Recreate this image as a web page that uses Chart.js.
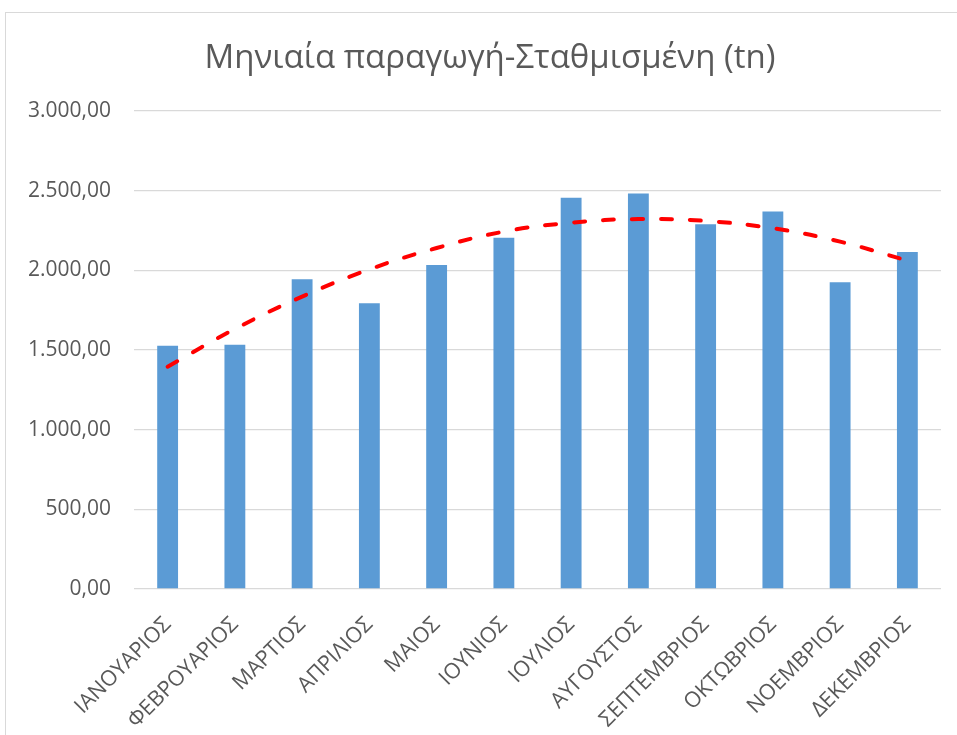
<!DOCTYPE html>
<html>
<head>
<meta charset="utf-8">
<script src="https://cdn.jsdelivr.net/npm/chart.js@4"></script>
<style>
  html, body { margin: 0; padding: 0; background: #ffffff; }
  #frame { position: absolute; left: 5px; top: 12px; width: 1000px; height: 1000px; border: 1px solid #d9d9d9; box-sizing: border-box; }
  #wrap { position: absolute; left: 0; top: 0; width: 957px; height: 735px; }
</style>
</head>
<body>
<div id="frame"></div>
<div id="wrap"><canvas id="c" width="957" height="735"></canvas></div>
<script>
const categories = ["ΙΑΝΟΥΑΡΙΟΣ","ΦΕΒΡΟΥΑΡΙΟΣ","ΜΑΡΤΙΟΣ","ΑΠΡΙΛΙΟΣ","ΜΑΙΟΣ","ΙΟΥΝΙΟΣ","ΙΟΥΛΙΟΣ","ΑΥΓΟΥΣΤΟΣ","ΣΕΠΤΕΜΒΡΙΟΣ","ΟΚΤΩΒΡΙΟΣ","ΝΟΕΜΒΡΙΟΣ","ΔΕΚΕΜΒΡΙΟΣ"];
const production = [1527, 1533, 1944, 1793, 2034, 2205, 2456, 2483, 2289, 2370, 1925, 2115];
const trend = [1395, 1632, 1835, 2006, 2140, 2243, 2299, 2322, 2310, 2264, 2180, 2061];
const yTicks = [0, 500, 1000, 1500, 2000, 2500, 3000];
const titleText = "Μηνιαία παραγωγή-Σταθμισμένη (tn)";

function fmtGreek(v) {
  const fixed = Number(v).toFixed(2);
  let [intPart, dec] = fixed.split(".");
  intPart = intPart.replace(/\B(?=(\d{3})+(?!\d))/g, ".");
  return intPart + "," + dec;
}

const textColor = "#595959";
const fontFamily = "'Open Sans', 'Noto Sans', sans-serif";

// Chart title, centred on the chart frame (not on the plot area)
const frameTitle = {
  id: "frameTitle",
  afterDraw(chart) {
    const ctx = chart.ctx;
    ctx.save();
    ctx.font = "normal 33px " + fontFamily;
    ctx.fillStyle = textColor;
    ctx.textAlign = "center";
    ctx.textBaseline = "middle";
    ctx.fillText(titleText, 490, 58.5);
    ctx.restore();
  }
};

new Chart(document.getElementById("c"), {
  data: {
    labels: categories,
    datasets: [
      {
        type: "line",
        label: "Τάση",
        data: trend,
        borderColor: "#FF0000",
        borderWidth: 4,
        borderDash: [11, 18],
        borderCapStyle: "round",
        tension: 0.4,
        pointRadius: 0,
        fill: false,
        order: 0
      },
      {
        type: "bar",
        label: "Παραγωγή",
        data: production,
        backgroundColor: "#5B9BD5",
        barPercentage: 0.31,
        categoryPercentage: 1.0,
        order: 1
      }
    ]
  },
  plugins: [frameTitle],
  options: {
    responsive: false,
    animation: false,
    layout: { padding: { left: 0, right: 16, top: 111, bottom: 0 } },
    plugins: {
      legend: { display: false },
      tooltip: { enabled: false },
      title: { display: false }
    },
    scales: {
      x: {
        grid: { display: false },
        border: { display: false },
        ticks: {
          autoSkip: false,
          minRotation: 45,
          maxRotation: 45,
          color: textColor,
          font: { family: fontFamily, size: 21.5 },
          padding: 15
        },
        afterFit: (s) => { s.height = 146; }
      },
      y: {
        min: 0,
        max: 3000,
        afterBuildTicks: (s) => { s.ticks = yTicks.map(v => ({ value: v })); },
        grid: { color: "#d9d9d9", lineWidth: 1.3, drawTicks: false },
        border: { display: false },
        ticks: {
          color: textColor,
          font: { family: fontFamily, size: 21 },
          padding: 23,
          callback: (v) => fmtGreek(v)
        },
        afterFit: (s) => { s.width = 134; }
      }
    }
  }
});
</script>
</body>
</html>
